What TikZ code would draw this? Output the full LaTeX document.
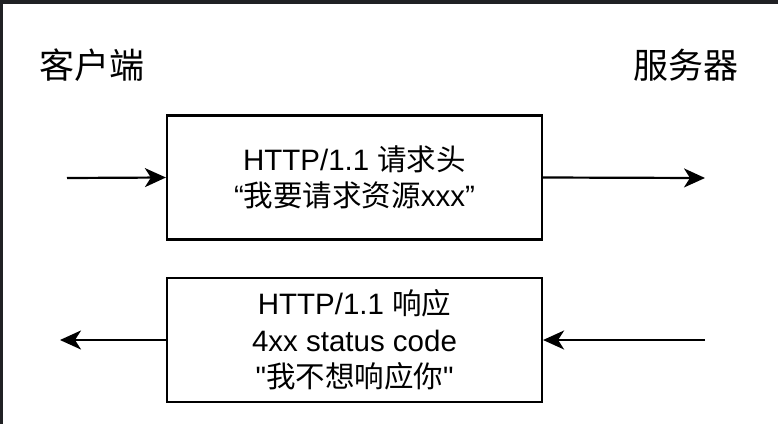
\documentclass[tikz,border=0pt]{standalone}
\usepackage{fontspec}
\setmainfont{Liberation Sans}
\newfontfamily\cjk{Noto Sans CJK SC}
\usetikzlibrary{arrows.meta,positioning}
\definecolor{framebg}{HTML}{202124}

\begin{document}
\begin{tikzpicture}[x=1pt,y=-1pt,->,>={Stealth[length=21pt,width=19pt,inset=6pt]},
                    line width=2.2pt,node distance=162.5pt]
  \tikzset{box/.style={rectangle,draw,line width=2.2pt,minimum width=375pt,minimum height=124pt,
                       align=center,font=\fontsize{29.5}{36.5}\selectfont},
           side/.style={font=\cjk\fontsize{35}{40}\selectfont}}

  \useasboundingbox (0,0) rectangle (778,424);
  \fill[framebg] (0,0) rectangle (778,424);
  \fill[white] (3,4) rectangle (778,424);

  \node[side]  (client)              at (91.5,65)    {客户端};
  \node[side]  (server)              at (685.5,65)   {服务器};
  \node[box]   (req)                 at (354.5,177.5) {HTTP/1.1 {\cjk 请求头}\\“{\cjk 我要请求资源}xxx”};
  \node[box]   (resp) [below of=req]                  {HTTP/1.1 {\cjk 响应}\\4xx status code\\\textquotedbl{\cjk 我不想响应你}\textquotedbl};

  \coordinate (cin)  at (67,178);
  \coordinate (sout) at (705,178);
  \coordinate (sin)  at (705,340);
  \coordinate (cout) at (60,340);

  \draw (cin)  -- (req.west);
  \draw (req.east) -- (sout);
  \draw (sin)  -- (resp.east);
  \draw (resp.west) -- (cout);
\end{tikzpicture}
\end{document}
